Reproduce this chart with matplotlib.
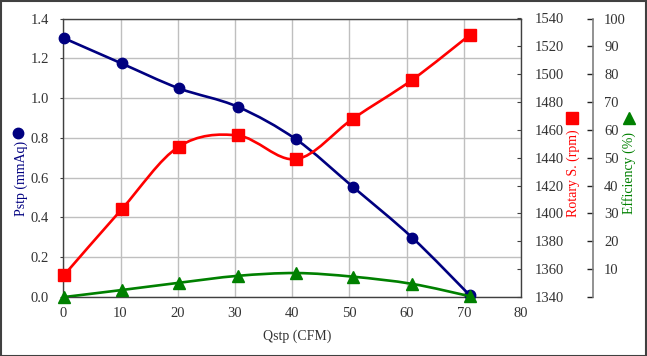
import numpy as np
import matplotlib
matplotlib.use("Agg")
import matplotlib.pyplot as plt
from matplotlib.path import Path
from matplotlib.patches import PathPatch, Rectangle
from matplotlib.lines import Line2D

# ---- data ----
qstp = [0.2, 10.2, 20.2, 30.5, 40.7, 50.6, 61.0, 71.0]
pstp = [1.30, 1.174, 1.049, 0.956, 0.792, 0.554, 0.298, 0.01]
rpm = [1356, 1403, 1448, 1456, 1439, 1468, 1496, 1528]
eff = [0.0, 2.5, 5.1, 7.6, 8.6, 7.3, 4.7, 0.3]

xticks = [0, 10, 20, 30, 40, 50, 60, 70, 80]
yticks_p = [0.0, 0.2, 0.4, 0.6, 0.8, 1.0, 1.2, 1.4]
yticks_rpm = [1340, 1360, 1380, 1400, 1420, 1440, 1460, 1480, 1500, 1520, 1540]
yticks_eff = [0, 10, 20, 30, 40, 50, 60, 70, 80, 90, 100]

NAVY = "#000080"
RED = "#FF0000"
GREEN = "#008000"
SPINE = "#404040"
TXT = "#333333"
FONT = ["Liberation Serif", "DejaVu Serif"]
FS = 10.5
FT = 10

plt.rcParams["font.family"] = FONT


def smooth_path(xs, ys):
    """Catmull-Rom style cubic Bezier through the points (Excel-like smoothing)."""
    p = np.column_stack([xs, ys]).astype(float)
    n = len(p)
    verts = [p[0]]
    codes = [Path.MOVETO]
    for i in range(n - 1):
        p0 = p[i - 1] if i > 0 else p[i]
        p1 = p[i]
        p2 = p[i + 1]
        p3 = p[i + 2] if i + 2 < n else p[i + 1]
        c1 = p1 + (p2 - p0) / 6.0
        c2 = p2 - (p3 - p1) / 6.0
        verts += [c1, c2, p2]
        codes += [Path.CURVE4] * 3
    return Path(verts, codes)


W, H = 647, 356
fig = plt.figure(figsize=(W / 100, H / 100), dpi=100)
L, R, B, T = 63.3, 521, 297, 18.5
ax = fig.add_axes([L / W, 1 - B / H, (R - L) / W, (B - T) / H])
ax2 = ax.twinx()
ax3 = ax.twinx()

# left axis
ax.set_xlim(0, 80)
ax.set_ylim(0, 1.4)
ax.set_xticks(xticks)
ax.set_yticks(yticks_p)
ax.set_yticklabels([f"{v:.1f}" for v in yticks_p])
ax.grid(True, color="#BFBFBF", linewidth=1.0)
ax.set_axisbelow(True)
ax.tick_params(axis="y", direction="out", length=2.5, width=0.8, color=SPINE,
               pad=8, labelsize=FS, labelcolor=TXT)
ax.tick_params(axis="x", length=0, pad=7.5, labelsize=FS, labelcolor=TXT)
for s in ax.spines.values():
    s.set_color(SPINE)
    s.set_linewidth(1.0)

# rpm axis
ax2.set_ylim(1340, 1540)
ax2.set_yticks(yticks_rpm)
ax2.tick_params(axis="y", direction="in", length=3, width=0.8, color=SPINE,
                pad=10, labelsize=FS, labelcolor=TXT)
for s in ax2.spines.values():
    s.set_visible(False)

# efficiency axis
ax3.set_ylim(0, 100)
ax3.set_yticks(yticks_eff)
ax3.set_yticklabels(["" if v == 0 else str(v) for v in yticks_eff])
ax3.spines["right"].set_position(("axes", (593 - L) / (R - L)))
for k, s in ax3.spines.items():
    s.set_visible(k == "right")
ax3.spines["right"].set_color("#7F7F7F")
ax3.spines["right"].set_linewidth(1.2)
ax3.tick_params(axis="y", direction="in", length=4, width=1.0, color="#222222",
                pad=8, labelsize=FS, labelcolor=TXT)

# series
lw = 1.9
ax.add_patch(PathPatch(smooth_path(qstp, pstp), fill=False, edgecolor=NAVY, lw=lw,
                       capstyle="round", joinstyle="round"))
ax.plot(qstp, pstp, linestyle="none", marker="o", ms=7.5, color=NAVY, clip_on=False, zorder=5)

ax2.add_patch(PathPatch(smooth_path(qstp, rpm), fill=False, edgecolor=RED, lw=lw,
                        capstyle="round", joinstyle="round"))
ax2.plot(qstp, rpm, linestyle="none", marker="s", ms=8, color=RED, clip_on=False, zorder=5)

ax3.add_patch(PathPatch(smooth_path(qstp, eff), fill=False, edgecolor=GREEN, lw=lw,
                        capstyle="round", joinstyle="round"))
ax3.plot(qstp, eff, linestyle="none", marker="^", ms=8, color=GREEN, clip_on=False, zorder=5)

# axis titles
fig.text(297 / W, 1 - 336 / H, "Qstp (CFM)", ha="center", va="center",
         fontsize=FT, color=TXT)
fig.text(21 / W, 1 - 178 / H, "Pstp (mmAq)", rotation=90, ha="center", va="center",
         fontsize=FT, color=NAVY)
fig.add_artist(Line2D([18 / W], [1 - 133 / H], marker="o", ms=7.5, color=NAVY,
                      transform=fig.transFigure))
fig.text(573 / W, 1 - 173 / H, "Rotary S. (rpm)", rotation=90, ha="center", va="center",
         fontsize=FT, color=RED)
fig.add_artist(Line2D([571.5 / W], [1 - 118 / H], marker="s", ms=9, color=RED,
                      transform=fig.transFigure))
fig.text(629 / W, 1 - 173 / H, "Efficiency (%)", rotation=90, ha="center", va="center",
         fontsize=FT, color=GREEN)
fig.add_artist(Line2D([629 / W], [1 - 118 / H], marker="^", ms=9, color=GREEN,
                      transform=fig.transFigure))

# outer frame
fig.add_artist(Rectangle((0.5 / W, 0.5 / H), (W - 1.5) / W, (H - 1.5) / H, fill=False,
                         edgecolor="#404040", lw=1.5, transform=fig.transFigure))

fig.savefig("out.png", dpi=100)
